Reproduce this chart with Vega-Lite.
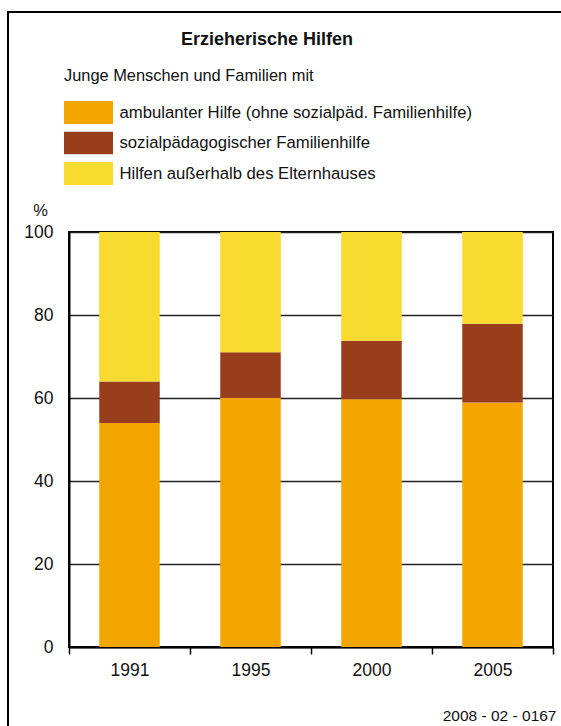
{
  "$schema": "https://vega.github.io/schema/vega-lite/v6.json",
  "width": 484,
  "height": 415,
  "autosize": {"type": "none"},
  "padding": {"left": 69, "top": 232, "right": 8, "bottom": 79},
  "background": "white",
  "title": {
    "text": "Erzieherische Hilfen",
    "fontSize": 18,
    "fontWeight": "bold",
    "color": "#111",
    "anchor": "middle",
    "frame": "group",
    "dx": -44,
    "dy": 38,
    "offset": 0
  },
  "datasets": {
    "hilfen": [
      {"Jahr": "1991", "Art": "ambulanter Hilfe (ohne sozialpäd. Familienhilfe)", "Rang": 1, "Anteil": 54},
      {"Jahr": "1991", "Art": "sozialpädagogischer Familienhilfe", "Rang": 2, "Anteil": 10},
      {"Jahr": "1991", "Art": "Hilfen außerhalb des Elternhauses", "Rang": 3, "Anteil": 36},
      {"Jahr": "1995", "Art": "ambulanter Hilfe (ohne sozialpäd. Familienhilfe)", "Rang": 1, "Anteil": 60},
      {"Jahr": "1995", "Art": "sozialpädagogischer Familienhilfe", "Rang": 2, "Anteil": 11},
      {"Jahr": "1995", "Art": "Hilfen außerhalb des Elternhauses", "Rang": 3, "Anteil": 29},
      {"Jahr": "2000", "Art": "ambulanter Hilfe (ohne sozialpäd. Familienhilfe)", "Rang": 1, "Anteil": 59.7},
      {"Jahr": "2000", "Art": "sozialpädagogischer Familienhilfe", "Rang": 2, "Anteil": 14.1},
      {"Jahr": "2000", "Art": "Hilfen außerhalb des Elternhauses", "Rang": 3, "Anteil": 26.2},
      {"Jahr": "2005", "Art": "ambulanter Hilfe (ohne sozialpäd. Familienhilfe)", "Rang": 1, "Anteil": 58.9},
      {"Jahr": "2005", "Art": "sozialpädagogischer Familienhilfe", "Rang": 2, "Anteil": 19},
      {"Jahr": "2005", "Art": "Hilfen außerhalb des Elternhauses", "Rang": 3, "Anteil": 22.1}
    ],
    "rahmen": [{"Rahmen": "Rahmen"}]
  },
  "layer": [
    {
      "data": {"name": "hilfen"},
      "mark": {"type": "bar", "width": {"band": 0.5}},
      "encoding": {
        "x": {
          "field": "Jahr",
          "type": "nominal",
          "scale": {"paddingInner": 0, "paddingOuter": 0},
          "axis": {
            "title": "2008 - 02 - 0167",
            "titleFontSize": 15.5,
            "titleFontWeight": "normal",
            "titleColor": "#111",
            "titleAlign": "right",
            "titleBaseline": "alphabetic",
            "titleX": 487,
            "titleY": 73,
            "labelAngle": 0,
            "labelFontSize": 17.5,
            "labelColor": "#111",
            "labelPadding": 7,
            "tickSize": 7,
            "tickWidth": 1.5,
            "tickColor": "#000",
            "tickBand": "extent",
            "domainColor": "#000",
            "domainWidth": 2,
            "grid": false
          }
        },
        "y": {
          "field": "Anteil",
          "type": "quantitative",
          "stack": "zero",
          "scale": {"domain": [0, 100], "nice": false},
          "axis": {
            "title": "%",
            "titleAngle": 0,
            "titleAlign": "center",
            "titleBaseline": "alphabetic",
            "titleX": -29,
            "titleY": -16.5,
            "titleFontSize": 16.5,
            "titleFontWeight": "normal",
            "titleColor": "#111",
            "values": [0, 20, 40, 60, 80, 100],
            "labelFontSize": 17.5,
            "labelColor": "#111",
            "labelPadding": 16,
            "ticks": false,
            "tickSize": 0,
            "domainColor": "#000",
            "domainWidth": 2,
            "grid": true,
            "gridColor": "#222",
            "gridWidth": 1.6
          }
        },
        "color": {
          "field": "Art",
          "type": "nominal",
          "scale": {
            "domain": ["ambulanter Hilfe (ohne sozialpäd. Familienhilfe)", "sozialpädagogischer Familienhilfe", "Hilfen außerhalb des Elternhauses"],
            "range": ["#F3A600", "#983E1C", "#F9DA2E"]
          },
          "legend": {
            "orient": "none",
            "legendX": -5,
            "legendY": -164.3,
            "title": "Junge Menschen und Familien mit",
            "titleFontSize": 16.4,
            "titleFontWeight": "normal",
            "titleColor": "#111",
            "titlePadding": 17,
            "titleLimit": 500,
            "symbolType": "M-1,-0.47H1V0.47H-1Z",
            "symbolSize": 2401,
            "symbolStrokeWidth": 0,
            "symbolOpacity": 1,
            "clipHeight": 23,
            "rowPadding": 7.5,
            "labelFontSize": 16.7,
            "labelColor": "#111",
            "labelOffset": 6.5,
            "labelLimit": 500,
            "padding": 0
          }
        },
        "order": {"field": "Rang", "type": "quantitative"}
      }
    },
    {
      "data": {"name": "rahmen"},
      "mark": {"type": "point", "opacity": 0},
      "encoding": {
        "shape": {
          "field": "Rahmen",
          "type": "nominal",
          "legend": {
            "orient": "none",
            "legendX": -61,
            "legendY": -220,
            "title": null,
            "padding": 360,
            "strokeColor": "#000",
            "labelExpr": "''",
            "labelFontSize": 1,
            "labelOffset": 0,
            "symbolSize": 0,
            "symbolOpacity": 0,
            "symbolStrokeWidth": 0
          }
        }
      }
    }
  ],
  "config": {
    "font": "Liberation Sans",
    "view": {"stroke": "#000", "strokeWidth": 2},
    "legend": {"strokeWidth": 2}
  }
}
